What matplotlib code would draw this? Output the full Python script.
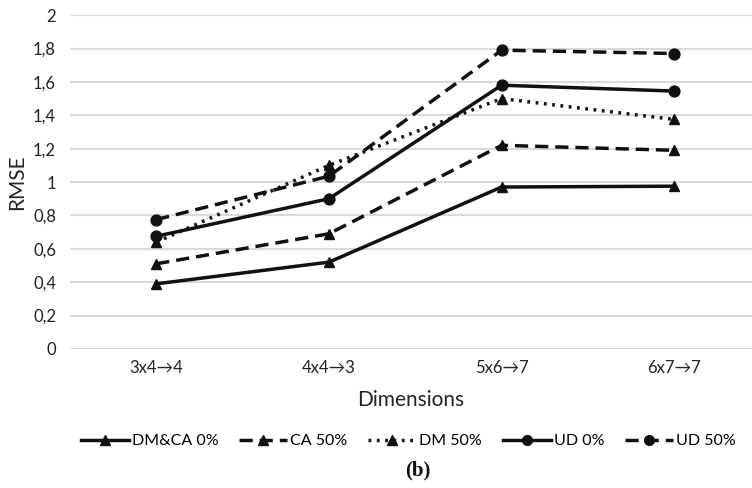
import matplotlib
matplotlib.use("Agg")
import matplotlib.pyplot as plt

plt.rcParams["font.family"] = ["Lato", "DejaVu Sans"]

categories = ["3x4→4", "4x4→3", "5x6→7", "6x7→7"]
dmca_0 = [0.39, 0.52, 0.97, 0.975]
ca_50 = [0.51, 0.69, 1.22, 1.19]
dm_50 = [0.64, 1.10, 1.50, 1.375]
ud_0 = [0.675, 0.90, 1.58, 1.545]
ud_50 = [0.775, 1.035, 1.79, 1.77]
y_ticks = [0, 0.2, 0.4, 0.6, 0.8, 1.0, 1.2, 1.4, 1.6, 1.8, 2.0]
y_labels = ["0", "0,2", "0,4", "0,6", "0,8", "1", "1,2", "1,4", "1,6", "1,8", "2"]

fig = plt.figure(figsize=(7.52, 4.88), dpi=100)
ax = fig.add_axes([0.093, 0.285, 0.907, 0.684])

x = range(len(categories))
dash = (0, (3.8, 2.0))
series = [
    (dmca_0, "DM&CA 0%", "-", "^"),
    (ca_50, "CA 50%", dash, "^"),
    (dm_50, "DM 50%", (0, (0.8, 1.6)), "^"),
    (ud_0, "UD 0%", "-", "o"),
    (ud_50, "UD 50%", dash, "o"),
]
for vals, label, ls, mk in series:
    ax.plot(x, vals, color="#111111", lw=2.5, linestyle=ls, marker=mk,
            markersize=7.8, label=label)

ax.set_xlim(-0.5, 3.45)
ax.set_ylim(0, 2)
ax.set_yticks(y_ticks)
ax.set_yticklabels(y_labels)
ax.set_xticks(list(x))
ax.set_xticklabels(categories)
ax.tick_params(length=0, labelsize=12, colors="#222222", pad=8)
ax.tick_params(axis="y", pad=10)
ax.grid(axis="y", color="#d9d9d9", lw=1.5)
ax.set_axisbelow(True)
for s in ax.spines.values():
    s.set_visible(False)

ax.set_ylabel("RMSE", fontsize=15, color="#222222", labelpad=4)
ax.set_xlabel("Dimensions", fontsize=15, color="#222222", labelpad=10)

fig.legend(*ax.get_legend_handles_labels(), loc="center",
           bbox_to_anchor=(0.543, 0.096), ncol=5, frameon=False,
           fontsize=11.5, handlelength=3.0, handletextpad=0.2, columnspacing=1.3,
           markerscale=0.9)

fig.text(0.556, 0.036, "(b)", family="Liberation Serif", fontweight="bold",
         fontsize=15, ha="center", va="center", color="#111111")

fig.savefig("out.png", dpi=100)
